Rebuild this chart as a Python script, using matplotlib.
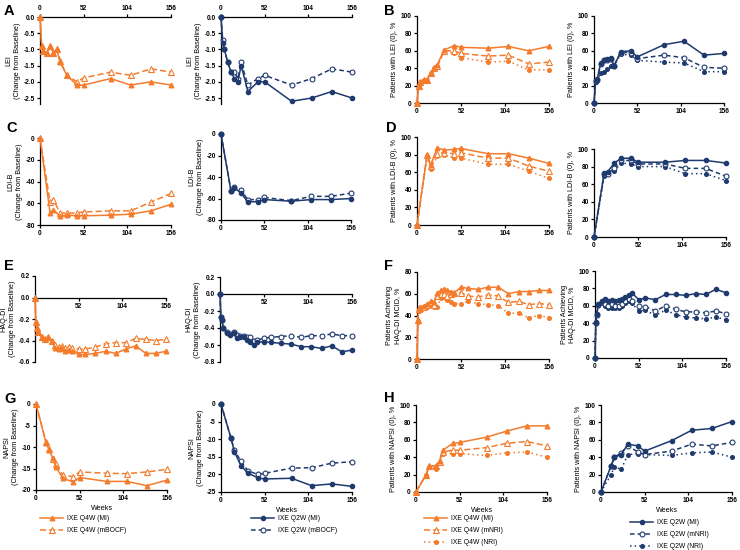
import matplotlib
matplotlib.use("Agg")
import matplotlib.pyplot as plt

plt.rcParams['font.family'] = ['Liberation Sans', 'DejaVu Sans']
plt.rcParams['font.weight'] = 'bold'
plt.rcParams['axes.unicode_minus'] = False

ORANGE = "#F47C2C"
NAVY = "#1F3A6E"
W, H = 740, 550

# ---- data ----
wk_lei = [0, 2, 4, 8, 12, 16, 20, 24, 32, 44, 52, 84, 108, 132, 156]
lei_q4w_mi = [0, -0.9, -1.05, -1.1, -0.9, -1.1, -1.0, -1.4, -1.8, -2.1, -2.1, -1.9, -2.1, -2.0, -2.1]
lei_q4w_mbocf = [0, -0.9, -1.05, -1.1, -0.9, -1.1, -1.0, -1.35, -1.8, -2.0, -1.88, -1.7, -1.8, -1.6, -1.7]
lei_q2w_mi = [0, -0.8, -1.0, -1.4, -1.7, -1.9, -2.0, -1.5, -2.3, -2.0, -2.0, -2.6, -2.5, -2.3, -2.5]
lei_q2w_mbocf = [0, -0.7, -1.0, -1.4, -1.7, -1.7, -1.9, -1.4, -2.1, -1.9, -1.8, -2.1, -1.9, -1.6, -1.7]

lei0_q4w_mi = [0, 20, 24, 27, 27, 35, 40, 44, 61, 66, 64, 63, 65, 60, 65]
lei0_q4w_mnri = [0, 20, 24, 27, 27, 35, 40, 42, 60, 60, 57, 54, 55, 45, 47]
lei0_q4w_nri = [0, 20, 24, 27, 27, 35, 40, 42, 59, 57, 52, 47, 48, 38, 38]
lei0_q2w_mi = [0, 26, 28, 46, 50, 51, 52, 42, 59, 60, 53, 67, 71, 55, 57]
lei0_q2w_mnri = [0, 25, 27, 45, 49, 50, 51, 43, 58, 58, 51, 55, 52, 41, 40]
lei0_q2w_nri = [0, 24, 26, 34, 36, 39, 42, 43, 56, 55, 49, 47, 46, 36, 36]

wk_ldi = [0, 12, 16, 24, 32, 44, 52, 84, 108, 132, 156]
ldi_q4w_mi = [0, -69, -66, -72, -71, -71.5, -71.5, -71, -70, -67, -61]
ldi_q4w_mbocf = [0, -59, -57, -69, -69, -69, -68, -67, -67, -59, -51]
ldi_q2w_mi = [0, -53, -50, -55, -63, -63, -61, -62.5, -61, -61, -60]
ldi_q2w_mbocf = [0, -53, -49, -52, -61, -61, -59, -62, -58, -58, -55]

ldi0_q4w_mi = [0, 80, 68, 88, 85, 86, 87, 81, 81, 76, 70]
ldi0_q4w_mnri = [0, 80, 67, 81, 82, 81, 82, 76, 76, 67, 61]
ldi0_q4w_nri = [0, 78, 64, 78, 80, 76, 76, 69, 69, 61, 53]
ldi0_q2w_mi = [0, 73, 74, 84, 89.5, 89.5, 85, 85, 87, 87, 84]
ldi0_q2w_mnri = [0, 72, 72, 78, 87, 87, 83, 83, 78, 78, 69]
ldi0_q2w_nri = [0, 69, 73, 75, 84, 83, 80, 80, 72, 72, 64]

wk_haq = [0, 1, 2, 4, 8, 12, 16, 20, 24, 28, 32, 36, 40, 44, 52, 60, 72, 84, 96, 108, 120, 132, 144, 156]
haq_q4w_mi = [0, -0.23, -0.28, -0.32, -0.37, -0.39, -0.37, -0.40, -0.47, -0.48, -0.47, -0.50,
              -0.49, -0.50, -0.53, -0.53, -0.52, -0.50, -0.52, -0.48, -0.45, -0.52, -0.52, -0.50]
haq_q4w_mbocf = [0, -0.23, -0.28, -0.32, -0.37, -0.39, -0.37, -0.40, -0.44, -0.46, -0.45, -0.47,
                 -0.46, -0.47, -0.48, -0.48, -0.46, -0.43, -0.42, -0.42, -0.38, -0.39, -0.40, -0.39]
haq_q2w_mi = [0, -0.27, -0.30, -0.40, -0.46, -0.48, -0.46, -0.52, -0.50, -0.51, -0.54, -0.56,
              -0.60, -0.57, -0.56, -0.57, -0.58, -0.59, -0.62, -0.62, -0.64, -0.61, -0.68, -0.66]
haq_q2w_mbocf = [0, -0.27, -0.30, -0.40, -0.45, -0.47, -0.45, -0.48, -0.49, -0.49, -0.50, -0.50,
                 -0.55, -0.54, -0.52, -0.51, -0.50, -0.49, -0.51, -0.49, -0.49, -0.47, -0.49, -0.49]

mcid_q4w_mi = [0, 36, 47, 48, 49, 51, 53, 52, 61, 63, 64, 63, 62, 61, 66, 65, 64, 66, 66, 60, 62, 62, 63, 63]
mcid_q4w_mnri = [0, 36, 46, 47, 48, 50, 52, 50, 58, 60, 60, 58, 60, 61, 61, 58, 57, 59, 58, 52, 53, 50, 51, 50]
mcid_q4w_nri = [0, 34, 44, 46, 47, 48, 50, 48, 48, 56, 57, 54, 52, 51, 51, 53, 51, 50, 49, 42, 42, 38, 40, 38]
mcid_q2w_mi = [0, 41, 51, 62, 66, 68, 66, 67, 66, 67, 68, 70, 72, 75, 67, 69, 67, 73, 73, 72, 74, 73, 79, 75]
mcid_q2w_mnri = [0, 40, 50, 61, 64, 62, 60, 62, 60, 60, 62, 65, 68, 66, 60, 59, 54, 60, 56, 53, 53, 52, 54, 51]
mcid_q2w_nri = [0, 40, 50, 61, 63, 60, 57, 58, 57, 58, 60, 63, 66, 63, 54, 55, 49, 55, 50, 47, 46, 45, 47, 44]

wk_napsi_q4w = [0, 12, 16, 20, 24, 32, 44, 52, 84, 108, 132, 156]
napsi_q4w_mi = [0, -9.1, -10.8, -12.6, -14.7, -17.3, -18.1, -17.1, -18.0, -18.0, -19.0, -17.7]
napsi_q4w_mbocf = [0, -8.9, -10.4, -12.8, -13.9, -16.6, -16.9, -15.8, -16.1, -16.2, -15.8, -15.2]
wk_napsi_q2w = [0, 12, 16, 24, 32, 44, 52, 84, 108, 132, 156]
napsi_q2w_mi = [0, -9.8, -13.6, -17.6, -19.6, -21.0, -21.3, -21.1, -23.2, -22.7, -23.4]
napsi_q2w_mbocf = [0, -9.8, -13.2, -16.3, -19.0, -20.0, -19.7, -18.2, -18.1, -16.8, -16.4]

wk_napsi0_q4w = [0, 12, 16, 24, 28, 32, 44, 52, 84, 108, 132, 156]
napsi0_q4w_mi = [0, 20, 30, 30, 36, 48, 56, 57, 63, 70, 76, 76]
napsi0_q4w_mnri = [0, 20, 30, 30, 35, 46, 48, 48, 51, 56, 58, 53]
napsi0_q4w_nri = [0, 20, 29, 26, 33, 44, 44, 44, 42, 45, 46, 40]
wk_napsi0_q2w = [0, 12, 16, 24, 32, 44, 52, 84, 108, 132, 156]
napsi0_q2w_mi = [0, 30, 40, 43, 55, 53, 47, 59, 71, 73, 81]
napsi0_q2w_mnri = [0, 30, 40, 45, 53, 46, 43, 47, 55, 53, 57]
napsi0_q2w_nri = [0, 20, 29, 26, 43, 44, 43, 42, 45, 46, 40]

# ---- styles ----
q4w_mi = dict(color=ORANGE, ls='-', lw=1.1, marker='^', mfc=ORANGE, mec=ORANGE, ms=3.3)
q4w_mod = dict(color=ORANGE, ls=(0, (4, 2)), lw=1.1, marker='^', mfc='white', mec=ORANGE, ms=3.8, mew=0.8)
q4w_nri = dict(color=ORANGE, ls=(0, (1, 2)), lw=1.1, marker='o', mfc=ORANGE, mec=ORANGE, ms=2.6)
q2w_mi = dict(color=NAVY, ls='-', lw=1.1, marker='o', mfc=NAVY, mec=NAVY, ms=3)
q2w_mod = dict(color=NAVY, ls=(0, (3, 2)), lw=1.1, marker='o', mfc='white', mec=NAVY, ms=3.5, mew=0.8)
q2w_nri = dict(color=NAVY, ls=(0, (1, 2)), lw=1.1, marker='o', mfc=NAVY, mec=NAVY, ms=2.6)

TICK_FS = 4.7
LAB_FS = 5.2

fig = plt.figure(figsize=(W / 100, H / 100), dpi=100)


def px_axes(x0, x1, y0, y1):
    return fig.add_axes([x0 / W, 1 - y1 / H, (x1 - x0) / W, (y1 - y0) / H])


def style(ax, ylim, yticks, ylabel, fmt="{:g}", xpos="bottom"):
    ax.set_xlim(0, 156)
    ax.set_ylim(*ylim)
    ax.set_yticks(yticks)
    ax.set_yticklabels([fmt.format(v) for v in yticks])
    ax.spines['right'].set_visible(False)
    for s in ax.spines.values():
        s.set_linewidth(0.9)
    if xpos == "top":
        ax.spines['bottom'].set_visible(False)
        ax.xaxis.tick_top()
        ax.set_xticks([0, 52, 104, 156])
    elif xpos == "zero":
        ax.spines['top'].set_visible(False)
        ax.spines['bottom'].set_position(('data', 0))
        ax.set_xticks([52, 104, 156])
    else:
        ax.spines['top'].set_visible(False)
        ax.set_xticks([0, 52, 104, 156])
    ax.tick_params(direction='out', length=2.3, width=0.9, labelsize=TICK_FS, pad=1.5)
    ax.set_ylabel(ylabel, fontsize=LAB_FS, labelpad=2, linespacing=1.3)


def draw(ax, weeks, series):
    for vals, st in series:
        ax.plot(weeks, vals, clip_on=False, zorder=3, **st)


chg = "(Change from Baseline)"

# A
ax = px_axes(40, 171, 17, 104.5)
draw(ax, wk_lei, [(lei_q4w_mbocf, q4w_mod), (lei_q4w_mi, q4w_mi)])
style(ax, (-2.7, 0), [0, -0.5, -1.0, -1.5, -2.0, -2.5], "LEI\n" + chg, "{:.1f}", "top")
ax = px_axes(221, 352, 17, 104.5)
draw(ax, wk_lei, [(lei_q2w_mbocf, q2w_mod), (lei_q2w_mi, q2w_mi)])
style(ax, (-2.7, 0), [0, -0.5, -1.0, -1.5, -2.0, -2.5], "LEI\n" + chg, "{:.1f}", "top")

# B
ax = px_axes(417, 549, 16, 103)
draw(ax, wk_lei, [(lei0_q4w_nri, q4w_nri), (lei0_q4w_mnri, q4w_mod), (lei0_q4w_mi, q4w_mi)])
style(ax, (0, 100), [0, 20, 40, 60, 80, 100], "Patients with LEI (0), %")
ax = px_axes(594, 724, 16, 103)
draw(ax, wk_lei, [(lei0_q2w_nri, q2w_nri), (lei0_q2w_mnri, q2w_mod), (lei0_q2w_mi, q2w_mi)])
style(ax, (0, 100), [0, 20, 40, 60, 80, 100], "Patients with LEI (0), %")

# C
ax = px_axes(40, 171, 138, 225)
draw(ax, wk_ldi, [(ldi_q4w_mbocf, q4w_mod), (ldi_q4w_mi, q4w_mi)])
style(ax, (-80, 0), [0, -20, -40, -60, -80], "LDI-B\n" + chg)
ax = px_axes(221, 351, 134, 220)
draw(ax, wk_ldi, [(ldi_q2w_mbocf, q2w_mod), (ldi_q2w_mi, q2w_mi)])
style(ax, (-80, 0), [0, -20, -40, -60, -80], "LDI-B\n" + chg)

# D
ax = px_axes(417, 549, 137, 225)
draw(ax, wk_ldi, [(ldi0_q4w_nri, q4w_nri), (ldi0_q4w_mnri, q4w_mod), (ldi0_q4w_mi, q4w_mi)])
style(ax, (0, 100), [0, 20, 40, 60, 80, 100], "Patients with LDI-B (0), %")
ax = px_axes(594, 726, 149, 237)
draw(ax, wk_ldi, [(ldi0_q2w_nri, q2w_nri), (ldi0_q2w_mnri, q2w_mod), (ldi0_q2w_mi, q2w_mi)])
style(ax, (0, 100), [0, 20, 40, 60, 80, 100], "Patients with LDI-B (0), %")

# E
ax = px_axes(35, 166, 276, 362)
draw(ax, wk_haq, [(haq_q4w_mbocf, q4w_mod), (haq_q4w_mi, q4w_mi)])
style(ax, (-0.6, 0.2), [0.2, 0.0, -0.2, -0.4, -0.6], "HAQ-DI\n" + chg, "{:.1f}", "zero")
ax = px_axes(220, 352, 277, 362)
draw(ax, wk_haq, [(haq_q2w_mbocf, q2w_mod), (haq_q2w_mi, q2w_mi)])
style(ax, (-0.8, 0.2), [0.2, 0.0, -0.2, -0.4, -0.6, -0.8], "HAQ-DI\n" + chg, "{:.1f}", "zero")

# F
ax = px_axes(417, 549, 272, 359)
draw(ax, wk_haq, [(mcid_q4w_nri, q4w_nri), (mcid_q4w_mnri, q4w_mod), (mcid_q4w_mi, q4w_mi)])
style(ax, (0, 80), [0, 20, 40, 60, 80], "Patients Achieving\nHAQ-DI MCID, %")
ax = px_axes(595, 726, 271, 358)
draw(ax, wk_haq, [(mcid_q2w_nri, q2w_nri), (mcid_q2w_mnri, q2w_mod), (mcid_q2w_mi, q2w_mi)])
style(ax, (0, 100), [0, 20, 40, 60, 80, 100], "Patients Achieving\nHAQ-DI MCID, %")

# G
ax = px_axes(36, 167, 404, 490)
draw(ax, wk_napsi_q4w, [(napsi_q4w_mbocf, q4w_mod), (napsi_q4w_mi, q4w_mi)])
style(ax, (-20, 0), [0, -5, -10, -15, -20], "NAPSI\n" + chg)
ax.set_xlabel("Weeks", fontsize=5.2, labelpad=2)
ax = px_axes(221, 352, 404, 492)
draw(ax, wk_napsi_q2w, [(napsi_q2w_mbocf, q2w_mod), (napsi_q2w_mi, q2w_mi)])
style(ax, (-25, 0), [0, -5, -10, -15, -20, -25], "NAPSI\n" + chg)
ax.set_xlabel("Weeks", fontsize=5.2, labelpad=2)

# H
ax = px_axes(416, 547, 405, 492)
draw(ax, wk_napsi0_q4w, [(napsi0_q4w_nri, q4w_nri), (napsi0_q4w_mnri, q4w_mod), (napsi0_q4w_mi, q4w_mi)])
style(ax, (0, 100), [0, 20, 40, 60, 80, 100], "Patients with NAPSI (0), %")
ax.set_xlabel("Weeks", fontsize=5.2, labelpad=2)
ax = px_axes(601, 732, 405, 492)
draw(ax, wk_napsi0_q2w, [(napsi0_q2w_nri, q2w_nri), (napsi0_q2w_mnri, q2w_mod), (napsi0_q2w_mi, q2w_mi)])
style(ax, (0, 100), [0, 20, 40, 60, 80, 100], "Patients with NAPSI (0), %")
ax.set_xlabel("Weeks", fontsize=5.2, labelpad=2)

# panel letters
for letter, x, y in [("A", 4, 4), ("B", 384, 4), ("C", 6, 121), ("D", 386, 121),
                     ("E", 4, 259), ("F", 384, 259), ("G", 4, 392), ("H", 384, 391)]:
    fig.text(x / W, 1 - y / H, letter, fontsize=10.5, fontweight='bold', va='top', ha='left')


# legends
def legend(x, y, entries):
    handles = [plt.Line2D([], [], **st) for _, st in entries]
    fig.legend(handles, [lbl for lbl, _ in entries], loc='upper left',
               bbox_to_anchor=(x / W, 1 - y / H), frameon=False,
               prop={'weight': 'normal', 'size': 4.9}, handlelength=3.4,
               handletextpad=0.6, labelspacing=0.75, borderpad=0, borderaxespad=0)


legend(40, 515, [("IXE Q4W (MI)", q4w_mi), ("IXE Q4W (mBOCF)", q4w_mod)])
legend(251, 515, [("IXE Q2W (MI)", q2w_mi), ("IXE Q2W (mBOCF)", q2w_mod)])
legend(424, 515, [("IXE Q4W (MI)", q4w_mi), ("IXE Q4W (mNRI)", q4w_mod), ("IXE Q4W (NRI)", q4w_nri)])
legend(630, 519, [("IXE Q2W (MI)", q2w_mi), ("IXE Q2W (mNRI)", q2w_mod), ("IXE Q2W (NRI)", q2w_nri)])

fig.savefig("out.png", dpi=100)
